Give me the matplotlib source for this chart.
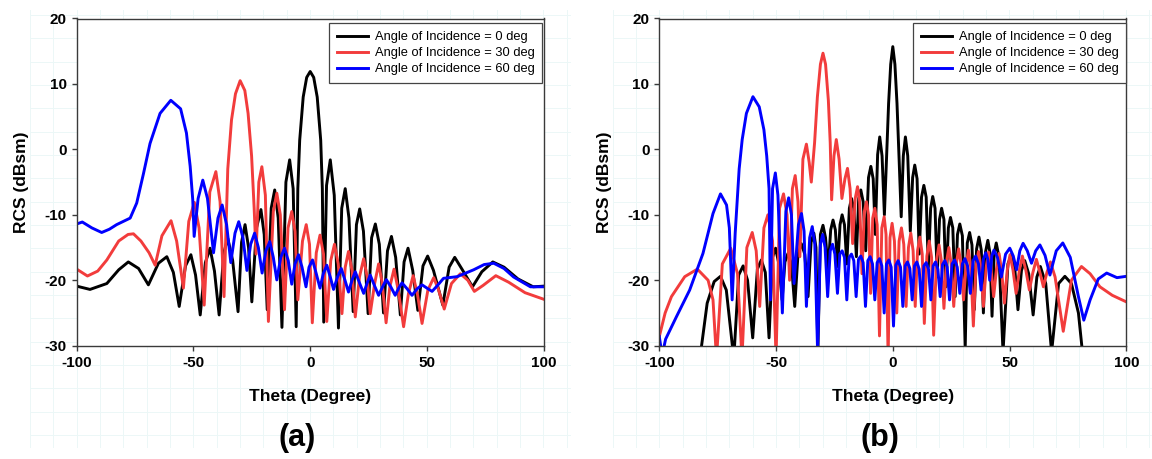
import numpy as np
import matplotlib
matplotlib.use('Agg')
import matplotlib.pyplot as plt
from matplotlib.lines import Line2D

# (theta deg, RCS dBsm)
a_inc0 = [(-100, -20.9), (-94.3, -21.4), (-87.1, -20.5), (-82, -18.4), (-77.9, -17.2), (-73.5, -18.2), (-69.3, -20.7),
          (-65, -17.4), (-61.4, -16.4), (-58.6, -18.8), (-56.1, -24.0), (-53.4, -17.8), (-51.1, -16.1), (-49.1, -19.2),
          (-47.1, -25.3), (-44.9, -17.3), (-42.9, -15.1), (-41, -18.6), (-39, -25.3), (-37, -15.8), (-35.3, -13.6),
          (-33.2, -17), (-30.9, -24.8), (-29.4, -14.2), (-27.9, -11.5), (-26.4, -15), (-25, -23.3), (-23, -12),
          (-21.1, -9.2), (-19.7, -13), (-18.4, -24.5), (-16.7, -9), (-15.2, -6.2), (-13.7, -10.5), (-12.1, -27.2),
          (-10.4, -5), (-8.8, -1.6), (-7.3, -6), (-6, -27.1), (-5.3, -6), (-4.5, 1.4), (-3, 8), (-1.5, 11), (0, 11.9),
          (1.5, 11), (3, 8), (4.5, 1.4), (5.2, -6), (5.8, -26.4), (7, -5.5), (8.6, -1.6), (10.3, -7), (12.1, -27.3),
          (13.5, -9), (15, -6), (16.6, -10.5), (18.4, -24.8), (19.8, -11.5), (21.2, -9.1), (22.8, -12.5), (24.8, -25.1),
          (26.3, -13.5), (27.9, -11.4), (29.6, -14.5), (31.4, -25), (33.1, -15.5), (34.8, -13.3), (36.6, -16.5),
          (38.6, -25.3), (40.2, -17.2), (41.9, -15.1), (43.9, -18.5), (46.1, -24.6), (48.3, -17.8), (50.3, -16.3),
          (52.8, -18.5), (56.8, -23.8), (59.5, -18), (61.9, -16.5), (65, -18.3), (69.5, -21), (73.5, -18.7),
          (78.2, -17.2), (83, -18), (89, -19.8), (95.5, -21), (100, -20.9)]
a_inc30 = [(-100, -18.3), (-95.4, -19.35), (-91, -18.6), (-87.1, -16.9), (-82, -14.0), (-78, -13.0), (-75.7, -12.9),
           (-72.5, -14), (-69, -15.8), (-66.4, -17.7), (-63.5, -13.2), (-59.6, -10.9), (-57.2, -14), (-54.3, -21.2),
           (-52, -11), (-49.6, -8.1), (-47.6, -12), (-45.4, -23.8), (-43, -6.5), (-40.4, -3.4), (-38.6, -8),
           (-36.9, -22.5), (-35.3, -3), (-33.7, 4.5), (-32, 8.5), (-30, 10.5), (-28, 9), (-26.6, 5.5), (-25.1, -1),
           (-24, -9), (-23.2, -16), (-22, -5), (-20.7, -2.65), (-19.2, -7), (-17.9, -26.3), (-15.8, -9.5),
           (-14.3, -6.7), (-12.8, -10), (-11, -24.5), (-9.5, -12), (-7.9, -9.5), (-6.5, -12.5), (-5.3, -23),
           (-3.3, -14), (-1.7, -11.5), (-0.3, -14.5), (0.9, -26.5), (2.6, -15.8), (4.2, -13.1), (5.7, -16),
           (7.1, -26.3), (8.8, -17), (10.4, -14.5), (12, -17.5), (13.6, -25.1), (15, -18), (16.4, -15.6), (17.9, -18.5),
           (19.3, -25.6), (21.1, -19.5), (22.9, -16.7), (24.4, -19.5), (25.7, -25.1), (27.6, -20.5), (29.3, -17.5),
           (30.8, -20.3), (32.5, -26.5), (34.1, -21), (35.9, -18.3), (37.7, -21.5), (40, -27.1), (42.1, -22),
           (44.1, -19.3), (46, -22.3), (47.9, -26.6), (50.4, -21.5), (52.9, -19.6), (55, -21.5), (57.4, -24.4),
           (60.5, -20.5), (64.3, -19), (67.5, -20), (70.3, -21.7), (74, -20.8), (79.5, -19.3), (85, -20.3),
           (92, -21.9), (100, -22.9)]
a_inc60 = [(-100, -11.4), (-97.6, -11.1), (-93.5, -12), (-89.3, -12.7), (-86, -12.2), (-82.9, -11.5), (-77.1, -10.5),
           (-74.3, -8.2), (-71.4, -3.7), (-68.6, 0.9), (-64.3, 5.5), (-59.7, 7.5), (-55.5, 6.2), (-53, 2.5),
           (-51.4, -2.6), (-50.3, -7.7), (-49.7, -13.3), (-48, -7.5), (-46, -4.7), (-44, -7.5), (-41.4, -15.8),
           (-39.5, -10.5), (-37.7, -8.5), (-35.8, -11.5), (-34, -17.3), (-32.2, -12.8), (-30.6, -11.05), (-28.8, -13.5),
           (-27.1, -18.5), (-25.5, -14.5), (-23.8, -12.8), (-22.2, -15), (-20.6, -18.9), (-19, -15.5), (-17.3, -14.1),
           (-15.8, -16.5), (-14.3, -19.95), (-12.6, -16.5), (-11, -15.1), (-9.4, -17), (-7.9, -20.6), (-6.5, -17.5),
           (-5, -16.1), (-3.5, -18), (-1.8, -21), (-0.5, -18), (1, -16.9), (2.6, -19), (4.2, -21.2), (5.6, -19),
           (7.1, -17.7), (8.6, -19.5), (10, -21.4), (11.7, -19.5), (13.3, -18.2), (14.9, -20), (16.4, -21.8),
           (17.9, -20), (19.3, -18.7), (21, -20.3), (22.9, -22), (24.3, -20.5), (25.7, -19.2), (27.5, -20.8),
           (29.3, -22.3), (31, -21), (32.6, -19.9), (34.5, -21), (36.4, -22.3), (37.9, -21.2), (39.3, -20.4),
           (41.5, -21.3), (43.6, -22.3), (45.8, -21.3), (47.9, -20.7), (50, -21.2), (52.2, -21.7), (54.5, -20.8),
           (57.1, -19.7), (62.9, -19.45), (70, -18.4), (74.5, -17.6), (78.6, -17.4), (83, -18.2), (87.1, -19.5),
           (94.3, -21), (100, -21)]

b_inc0 = [(-83, -33), (-79.5, -23.5), (-76.5, -20.2), (-73.8, -19.4), (-71.3, -21.5), (-68.1, -32),
          (-66, -19.2), (-64.1, -17.8), (-62.2, -20), (-60, -28.8), (-58, -18.3), (-56.3, -16.9), (-54.6, -18.8),
          (-53, -28.8), (-51.5, -16.5), (-50.2, -15.1), (-48.8, -17.5), (-47.4, -23), (-46.2, -17.2), (-44.9, -15.9),
          (-43.4, -17.5), (-42, -24), (-40.6, -16), (-39.2, -14.4), (-37.7, -16), (-36.3, -22.5), (-35, -14.2),
          (-33.8, -12.8), (-32.9, -15), (-32.1, -31), (-31, -13), (-29.9, -11.6), (-28.8, -13.5), (-27.7, -18.4),
          (-26.6, -12.3), (-25.6, -10.8), (-24.6, -12.3), (-23.6, -17.9), (-22.6, -11.5), (-21.7, -10),
          (-20.7, -11.5), (-19.7, -17.5), (-18.6, -9), (-17.7, -7.5), (-16.7, -9), (-15.6, -16.4), (-14.6, -7.5),
          (-13.7, -6.2), (-12.7, -8), (-11.6, -15.5), (-10.4, -4.3), (-9.4, -2.6), (-8.4, -4.5), (-7.5, -13),
          (-6.5, -0.8), (-5.6, 1.9), (-4.6, -1), (-3.6, -10), (-2.7, -1.5), (-1.8, 7), (-0.9, 13), (0, 15.7),
          (0.9, 13), (1.8, 7), (2.7, -1.5), (3.6, -10.3), (4.5, -1), (5.4, 1.9), (6.4, -1), (7.5, -12.5),
          (8.5, -4.3), (9.4, -2.4), (10.4, -4.5), (11.3, -16), (12.3, -7.3), (13.3, -5.5), (14.3, -7.3), (15.2, -18),
          (16.2, -9), (17.1, -7.2), (18.1, -9), (19, -19.5), (20, -10.7), (20.9, -9), (21.9, -10.7), (22.8, -21),
          (23.8, -12), (24.7, -10.4), (25.7, -12), (26.7, -22.5), (27.7, -13), (28.7, -11.4), (29.8, -13.2),
          (31, -30.5), (31.9, -14.3), (32.9, -12.7), (33.9, -14.6), (34.9, -24.5), (35.9, -15.2), (36.9, -13.4),
          (37.9, -15.4), (38.8, -25), (39.7, -15.7), (40.7, -13.9), (41.6, -15.8), (42.5, -25.5), (43.4, -16),
          (44.3, -14.3), (45.5, -16.5), (47.2, -31), (49.3, -17.5), (50.9, -16), (52.2, -18), (53.6, -24.5),
          (55.1, -18.5), (56.5, -17), (58.2, -19), (60.1, -25.3), (61.7, -19.5), (63.2, -17.9), (65.5, -20.5),
          (68, -31), (71, -20.5), (73.7, -19.4), (76.5, -20.5), (79.5, -25), (81.8, -33)]
b_inc30 = [(-100, -28.6), (-97.5, -25), (-94.8, -22.5), (-89.1, -19.45), (-83.7, -18.3), (-79.1, -20), (-77, -23),
           (-75.5, -32), (-73, -17.5), (-69.4, -15.1), (-66.5, -19), (-64.6, -32), (-62.5, -15), (-60.2, -12.7),
           (-58.5, -15.5), (-57, -24), (-55.2, -12), (-53.5, -10), (-51.5, -14), (-50, -32), (-48.5, -9),
           (-46.8, -6.8), (-45.3, -10), (-44.2, -20), (-43, -6), (-41.8, -4), (-40.6, -8), (-39.8, -16.4),
           (-38.5, -1.5), (-37, 0.8), (-35.8, -2), (-34.9, -5), (-33.5, 1), (-32.3, 8), (-31, 13), (-29.9, 14.7),
           (-28.8, 13), (-27.6, 7.5), (-26.8, 1), (-26.2, -7.7), (-25.2, -1), (-24.2, 1.5), (-23, -1.5),
           (-21.8, -7.5), (-20.5, -4.5), (-19.4, -2.9), (-18.3, -6), (-17.2, -14.4), (-16.1, -7.5), (-15.1, -5.7),
           (-14.2, -8), (-13.2, -19), (-12.2, -9.5), (-11.3, -8), (-10.4, -10), (-9.5, -22), (-8.6, -10.5),
           (-7.7, -9), (-6.7, -11.5), (-5.7, -28.5), (-4.7, -12), (-3.7, -10.3), (-2.9, -13), (-2, -32),
           (-1.2, -13.5), (-0.3, -11.3), (0.7, -14), (1.7, -25), (2.7, -14), (3.7, -12), (4.7, -14.5), (5.7, -24),
           (6.7, -15), (7.7, -12.8), (8.7, -15.5), (9.6, -24), (10.6, -15.5), (11.6, -13.4), (12.6, -16),
           (13.5, -26.6), (14.6, -16.3), (15.6, -14), (16.6, -16.5), (17.5, -28.4), (18.7, -17), (19.8, -14.6),
           (20.8, -17), (21.9, -24.3), (23, -17.2), (24, -15), (25, -17.5), (26.1, -24), (27.2, -17.5),
           (28.2, -15.2), (29.2, -17.5), (30.3, -23), (31.4, -17.7), (32.4, -15.4), (33.4, -18), (34.5, -27),
           (35.6, -18), (36.7, -15.6), (37.7, -18), (38.8, -24), (40, -18), (41, -15.7), (42, -18), (43.2, -22.5),
           (44.4, -18.3), (45.5, -15.9), (46.6, -18.5), (47.8, -23.5), (49, -18.5), (50.2, -16.1), (51.5, -18.5),
           (52.8, -22), (54.2, -18.5), (55.5, -16.3), (57, -18.5), (58.5, -21.5), (60, -18.8), (61.5, -16.8),
           (63, -18.8), (64.5, -21), (66, -18.8), (67.5, -17.2), (69.5, -19.5), (73, -27.8), (76.5, -20),
           (80.8, -17.9), (84.5, -19), (88.7, -21), (94, -22.3), (100, -23.3)]
b_inc60 = [(-100, -28.6), (-98.8, -31.5), (-97.3, -29), (-92.7, -25.6), (-87, -21.5), (-81.3, -15.9), (-77, -9.8),
           (-73.8, -6.8), (-71.2, -8.5), (-70, -12), (-68.8, -23), (-67.5, -12.8), (-65.8, -3), (-64.5, 1.5),
           (-62.7, 5.5), (-59.9, 8.05), (-57.2, 6.5), (-55.2, 3), (-54, -1), (-53, -6), (-52.4, -23), (-51.5, -6),
           (-50.3, -3.6), (-49.2, -7), (-47.3, -25), (-45.8, -9.5), (-44.6, -7.4), (-43.4, -10), (-42.3, -20.5),
           (-40.4, -11.5), (-39.1, -9.8), (-38, -12.5), (-37, -24), (-35.6, -13.5), (-34.5, -11.8), (-33.4, -14.5),
           (-32.2, -31), (-31, -14.5), (-30, -13), (-29, -15), (-27.9, -22.5), (-26.8, -15.5), (-25.8, -14.5),
           (-24.8, -16), (-23.7, -22), (-22.7, -16), (-21.7, -15.5), (-20.7, -16.5), (-19.7, -23), (-18.7, -16.5),
           (-17.7, -16), (-16.7, -17), (-15.7, -22.5), (-14.7, -16.8), (-13.7, -16.3), (-12.7, -17.3), (-11.7, -24),
           (-10.7, -17), (-9.7, -16.4), (-8.7, -17.5), (-7.7, -23), (-6.7, -17.3), (-5.7, -16.7), (-4.7, -17.8),
           (-3.7, -25), (-2.7, -17.5), (-1.7, -16.9), (-0.7, -18), (0.3, -27), (1.3, -17.7), (2.3, -17), (3.3, -18),
           (4.3, -24), (5.3, -17.8), (6.3, -17.2), (7.3, -18.2), (8.3, -23), (9.3, -17.8), (10.3, -17.2),
           (11.3, -18.3), (12.3, -24), (13.3, -17.8), (14.3, -17.3), (15.3, -18.3), (16.3, -23), (17.3, -17.8),
           (18.3, -17.2), (19.3, -18.3), (20.3, -22.5), (21.3, -17.6), (22.3, -17), (23.3, -18), (24.3, -23),
           (25.4, -17.5), (26.5, -16.9), (27.6, -18), (28.7, -22), (29.8, -17.5), (30.9, -16.7), (32, -17.8),
           (33.2, -22), (34.4, -17), (35.5, -16.3), (36.7, -17.5), (37.8, -21.5), (38.8, -16.8), (39.8, -15.8),
           (40.7, -16.8), (41.5, -20), (42.4, -16.3), (43.3, -15.4), (44.8, -16.5), (46.5, -19.5), (48.3, -16),
           (50.1, -15.1), (51.6, -16.3), (53, -18.4), (54.4, -15.5), (55.8, -14.35), (57.6, -15.5), (59.4, -17.4),
           (61.2, -15.5), (63, -14.6), (65.2, -16.2), (67.3, -19.2), (70, -15.5), (72.8, -14.3), (76, -16.5),
           (79.5, -22.5), (81.8, -26.1), (84.5, -23), (88, -19.8), (91.6, -18.9), (96, -19.6), (100, -19.4)]

labels = ['Angle of Incidence = 0 deg', 'Angle of Incidence = 30 deg', 'Angle of Incidence = 60 deg']
colors = ['#000000', '#f23c3c', '#0000ff']
panels = [('(a)', [a_inc0, a_inc30, a_inc60]), ('(b)', [b_inc0, b_inc30, b_inc60])]

W, H = 1152, 459
plt.rcParams['font.family'] = ['Liberation Sans', 'DejaVu Sans']
plt.rcParams['axes.unicode_minus'] = False
fig = plt.figure(figsize=(W / 100, H / 100), dpi=100)

ax_left_px = [76.7, 659.3]
ax_w, ax_top, ax_bot = 467.0, 18.5, 345.7

# faint background grid like in the source image
for x0 in ax_left_px:
    for k in range(-2, 22):
        xx = (x0 + k * 23.33) / W
        fig.add_artist(Line2D([xx, xx], [1 - 10 / H, 1 - 447 / H], color='#ecf7f7', lw=0.7, zorder=0))
    for k in range(0, 19):
        yy = 1 - (15 + k * 23.33) / H
        fig.add_artist(Line2D([(x0 - 46.7) / W, (x0 + 493) / W], [yy, yy], color='#ecf7f7', lw=0.7, zorder=0))

for i, (tag, curves) in enumerate(panels):
    x0 = ax_left_px[i]
    ax = fig.add_axes([x0 / W, 1 - ax_bot / H, ax_w / W, (ax_bot - ax_top) / H])
    for pts, c, lab in zip(curves, colors, labels):
        th = np.array([p[0] for p in pts])
        r = np.array([p[1] for p in pts])
        ax.plot(th, r, color=c, lw=2.1, label=lab, solid_joinstyle='round')
    ax.set_xlim(-100, 100)
    ax.set_ylim(-30, 20)
    ax.set_xticks([-100, -50, 0, 50, 100])
    ax.set_yticks([-30, -20, -10, 0, 10, 20])
    for s in ax.spines.values():
        s.set_color('#3a3a3a')
        s.set_linewidth(1.0)
    ax.tick_params(direction='out', length=3.6, width=1.0, color='#3a3a3a', labelsize=11, pad=3.5)
    for t in ax.get_xticklabels() + ax.get_yticklabels():
        t.set_fontweight('bold')
    leg = ax.legend(loc='upper right', bbox_to_anchor=(0.997 + 0.003 * i, 0.985), borderaxespad=0,
                    fontsize=9.3, handlelength=2.4, handletextpad=0.55, labelspacing=0.3,
                    fancybox=False, framealpha=1, edgecolor='#444444', borderpad=0.6)
    leg.get_frame().set_linewidth(0.9)
    cx = x0 + ax_w / 2
    fig.text((x0 - 55) / W, 1 - 182 / H, 'RCS (dBsm)', rotation=90, ha='center', va='center',
             fontsize=12.5, fontweight='bold')
    fig.text(cx / W, 1 - 397 / H, 'Theta (Degree)', ha='center', va='center', fontsize=12.5, fontweight='bold')
    fig.text((cx - 13) / W, 1 - 438 / H, tag, ha='center', va='center', fontsize=22, fontweight='bold')

fig.savefig('out.png', dpi=100, facecolor='white')
